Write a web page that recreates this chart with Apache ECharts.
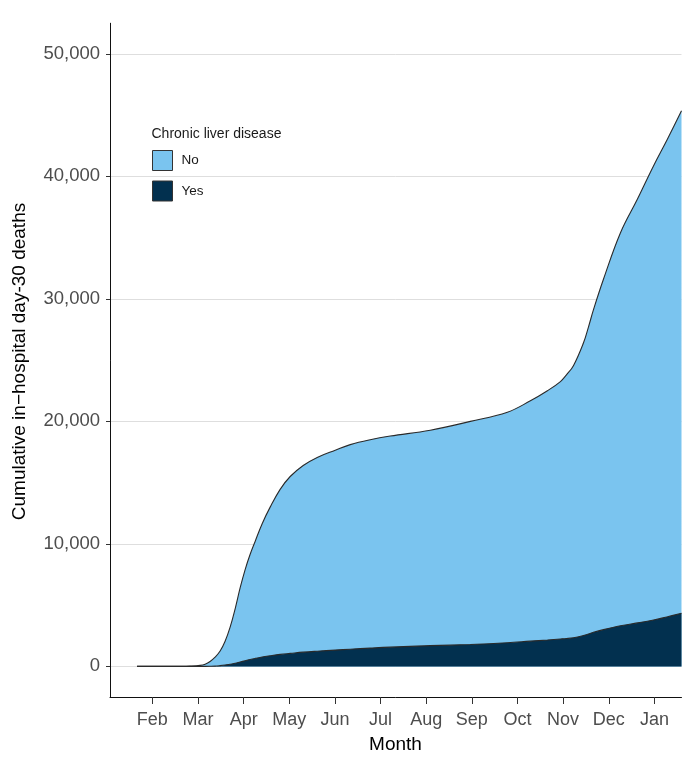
<!DOCTYPE html>
<html>
<head>
<meta charset="utf-8">
<script src="https://cdn.jsdelivr.net/npm/echarts@6/dist/echarts.min.js"></script>
<style>
html,body{margin:0;padding:0;background:#fff;}
#chart{width:692px;height:769px;}
</style>
</head>
<body>
<div id="chart"></div>
<script>
// x positions in month units (Feb = 2 ... Jan = 13)
const monthPos = [1.664, 2.607, 2.827, 3.046, 3.156, 3.265, 3.375, 3.485, 3.594, 3.704, 3.814, 3.923, 4.033, 4.143, 4.252, 4.406, 4.581, 4.800, 5.020, 5.305, 5.612, 6.007, 6.336, 6.774, 7.213, 8.090, 8.967, 9.779, 10.283, 10.656, 10.941, 11.073, 11.226, 11.445, 11.555, 11.664, 11.884, 12.257, 12.629, 12.980, 13.287, 13.594];
// Chronic liver disease = Yes (bottom layer)
const yesValues = [0, 0, 0, 0, 0, 5, 20, 60, 110, 170, 260, 360, 460, 560, 650, 770, 870, 980, 1060, 1160, 1240, 1330, 1400, 1490, 1570, 1690, 1790, 1930, 2060, 2150, 2230, 2270, 2340, 2520, 2640, 2780, 3000, 3310, 3550, 3780, 4050, 4330];
// Chronic liver disease = No (stacked on top of Yes)
const noValues = [0, 5, 20, 80, 180, 395, 730, 1190, 1940, 3030, 4440, 6040, 7440, 8590, 9550, 10880, 12130, 13470, 14440, 15240, 15820, 16320, 16700, 17010, 17230, 17590, 18210, 18820, 19620, 20350, 21020, 21530, 22210, 23880, 25060, 26320, 28600, 32090, 34600, 37070, 39000, 41020];
const monthTicks = [2, 3, 4, 5, 6, 7, 8, 9, 10, 11, 12, 13];
const monthLabels = ['Feb', 'Mar', 'Apr', 'May', 'Jun', 'Jul', 'Aug', 'Sep', 'Oct', 'Nov', 'Dec', 'Jan'];
const yTicks = [0, 10000, 20000, 30000, 40000, 50000];

const FONT = 'Liberation Sans, Arial, sans-serif';
const chart = echarts.init(document.getElementById('chart'), null, {renderer: 'canvas'});

// stacked layers built from the series arrays (both axes are numeric, so stack manually)
const yesData = monthPos.map((m, i) => [m, yesValues[i]]);
const noStackData = monthPos.map((m, i) => [m, yesValues[i] + noValues[i]]);

chart.setOption({
  animation: false,
  backgroundColor: '#ffffff',
  grid: {left: 110, right: 10.5, top: 23.25, bottom: 72, containLabel: false},
  xAxis: {
    type: 'value',
    min: 1.072,
    max: 13.594,
    splitLine: {show: false},
    axisLine: {show: true, onZero: false, lineStyle: {color: '#111', width: 1}},
    axisTick: {show: true, length: 7, customValues: monthTicks, lineStyle: {color: '#333', width: 1}},
    axisLabel: {
      customValues: monthTicks,
      margin: 14,
      fontFamily: FONT, fontSize: 18, color: '#4D4D4D',
      formatter: v => monthLabels[monthTicks.indexOf(Math.round(v))] || ''
    }
  },
  yAxis: {
    type: 'value',
    min: -2500,
    max: 52500,
    axisLine: {show: true, onZero: false, lineStyle: {color: '#111', width: 1}},
    axisTick: {show: true, length: 4, customValues: yTicks, lineStyle: {color: '#333', width: 1}},
    axisLabel: {
      customValues: yTicks,
      margin: 10,
      fontFamily: FONT, fontSize: 18.5, color: '#4D4D4D',
      formatter: v => Math.round(v).toLocaleString('en-US')
    },
    splitLine: {show: true, lineStyle: {color: '#DEDEDE', width: 1}}
  },
  legend: {
    orient: 'vertical',
    left: 152,
    top: 150,
    padding: 0,
    itemWidth: 20,
    itemHeight: 20,
    itemGap: 9.5,
    icon: 'rect',
    itemStyle: {borderColor: '#333', borderWidth: 1},
    textStyle: {fontFamily: FONT, fontSize: 13.5, color: '#1A1A1A', padding: [0, 0, 0, 4]},
    data: [
      {name: 'No', itemStyle: {color: '#7AC4EF', borderColor: '#333', borderWidth: 1}},
      {name: 'Yes', itemStyle: {color: '#02304F', borderColor: '#333', borderWidth: 1}}
    ]
  },
  graphic: [
    {type: 'text', x: 151.5, y: 134, style: {text: 'Chronic liver disease', font: '14px ' + FONT, fill: '#1A1A1A', textAlign: 'left', textVerticalAlign: 'middle'}},
    {type: 'text', x: 395.5, y: 745, style: {text: 'Month', font: '19px ' + FONT, fill: '#000', textAlign: 'center', textVerticalAlign: 'middle'}},
    {type: 'text', x: 19.5, y: 361.5, rotation: Math.PI / 2, style: {text: 'Cumulative in\u2212hospital day-30 deaths', font: '19px ' + FONT, fill: '#000', textAlign: 'center', textVerticalAlign: 'middle'}}
  ],
  series: [
    {
      name: 'No', type: 'line', data: noStackData,
      smooth: 0.4, showSymbol: false, symbol: 'none', z: 2,
      itemStyle: {color: '#7AC4EF'},
      lineStyle: {color: '#2A2A2A', width: 1.1},
      areaStyle: {color: '#7AC4EF', opacity: 1}
    },
    {
      name: 'Yes', type: 'line', data: yesData,
      smooth: 0.4, showSymbol: false, symbol: 'none', z: 3,
      itemStyle: {color: '#02304F'},
      lineStyle: {color: '#2A2A2A', width: 1.1},
      areaStyle: {color: '#02304F', opacity: 1}
    }
  ]
});
</script>
</body>
</html>
